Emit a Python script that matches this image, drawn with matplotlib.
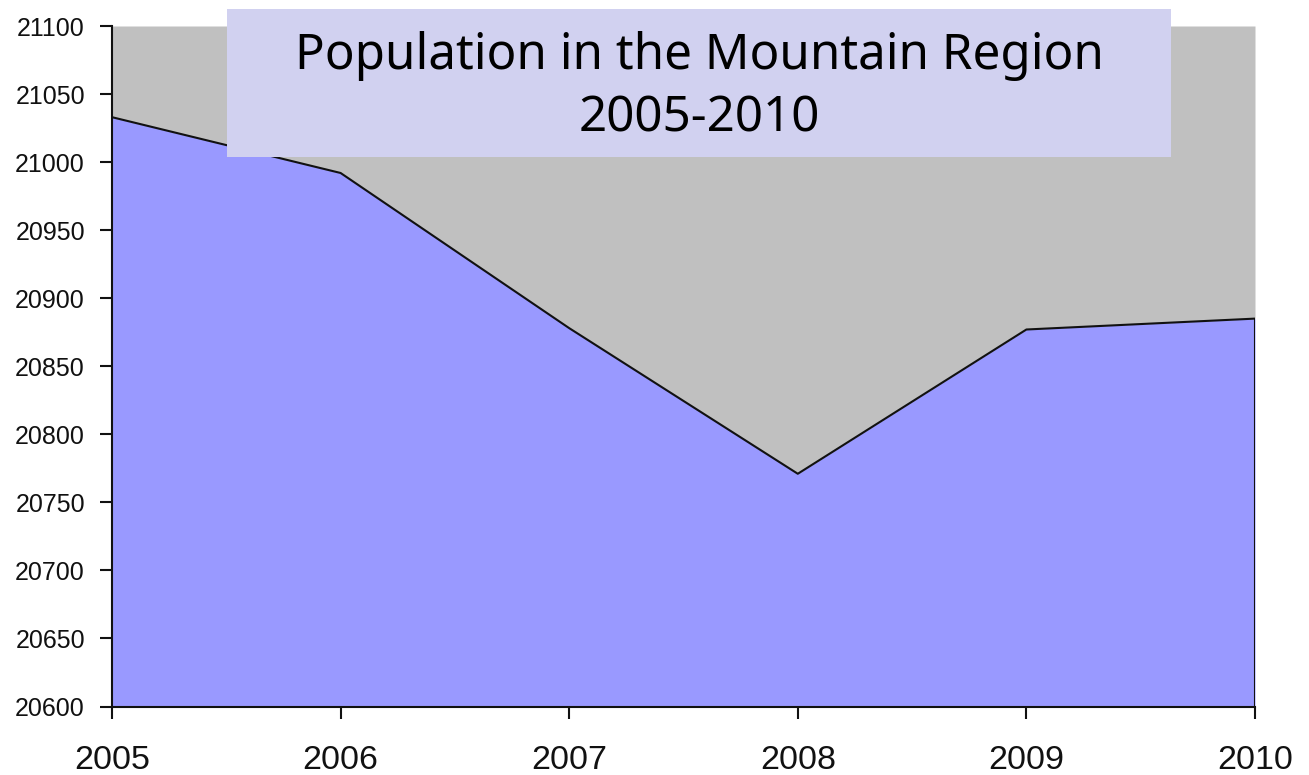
import matplotlib
matplotlib.use("Agg")
import matplotlib.pyplot as plt
from matplotlib.patches import Rectangle

years = [2005, 2006, 2007, 2008, 2009, 2010]
population = [21033, 20992, 20878, 20771, 20877, 20885]
y_ticks = [20600, 20650, 20700, 20750, 20800, 20850, 20900, 20950, 21000, 21050, 21100]
title_lines = ["Population in the Mountain Region", "2005-2010"]

W, H = 1309, 775
fig = plt.figure(figsize=(W / 100, H / 100), dpi=100)
ax = fig.add_axes([112 / W, 1 - 706.5 / H, (1255 - 112) / W, (706.5 - 26) / H])

ymin, ymax = 20600, 21100
ax.fill_between(years, population, ymax, color="#C0C0C0", lw=0, zorder=1)
ax.fill_between(years, ymin, population, color="#9999FF", lw=0, zorder=2)
ax.plot(years + [years[-1]], population + [ymin], color="#111111", lw=1.5, zorder=3)

ax.set_xlim(years[0], years[-1])
ax.set_ylim(ymin, ymax)
ax.set_xticks(years)
ax.set_xticklabels([str(y) for y in years])
ax.set_yticks(y_ticks)
ax.set_yticklabels([str(v) for v in y_ticks])

for s in ["top", "right"]:
    ax.spines[s].set_visible(False)
for s in ["left", "bottom"]:
    ax.spines[s].set_linewidth(1.5)
    ax.spines[s].set_color("#111111")

ax.tick_params(axis="y", direction="out", length=8.5, width=1.5, pad=11, colors="#111111")
ax.tick_params(axis="x", direction="out", length=8.5, width=1.5, pad=19, colors="#111111")
for lab in ax.get_yticklabels():
    lab.set_fontfamily(["Liberation Sans Narrow", "Liberation Sans"])
    lab.set_fontsize(18)
for lab in ax.get_xticklabels():
    lab.set_fontfamily(["Liberation Sans", "DejaVu Sans"])
    lab.set_fontsize(24.5)

# Title box
fig.patches.append(Rectangle((227 / W, 1 - 157 / H), (1171 - 227) / W, (157 - 9) / H,
                             transform=fig.transFigure, facecolor="#D1D1F0",
                             edgecolor="none", zorder=5))
cx = (227 + 1171) / 2 / W
fig.text(cx, 1 - 56 / H, title_lines[0], ha="center", va="center", fontsize=35.5,
         family=["Noto Sans", "DejaVu Sans"], color="black", zorder=6)
fig.text(cx, 1 - 119 / H, title_lines[1], ha="center", va="center", fontsize=35.5,
         family=["Noto Sans", "DejaVu Sans"], color="black", zorder=6)

fig.savefig("out.png", dpi=100)
